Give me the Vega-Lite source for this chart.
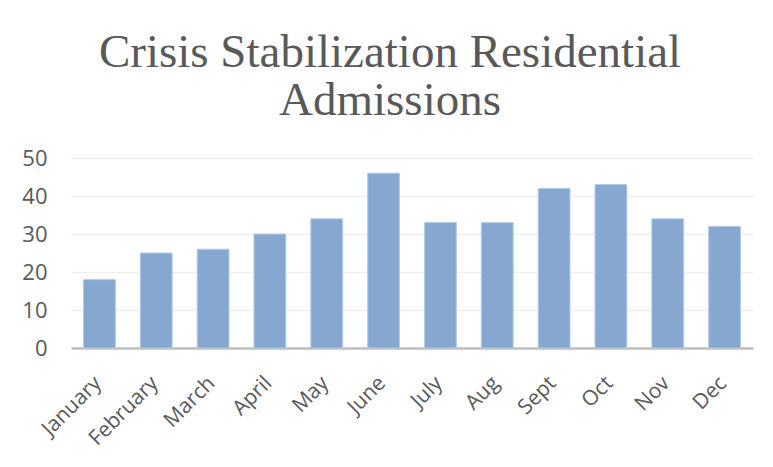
{
  "$schema": "https://vega.github.io/schema/vega-lite/v6.json",
  "width": 682,
  "height": 190,
  "autosize": "none",
  "padding": {"left": 71, "top": 158, "right": 20, "bottom": 119},
  "background": "white",
  "title": {
    "text": ["Crisis Stabilization Residential", "Admissions"],
    "font": "Liberation Serif",
    "fontSize": 47,
    "fontWeight": "normal",
    "color": "#595959",
    "lineHeight": 48,
    "anchor": "middle",
    "frame": "group",
    "dx": -22,
    "offset": 22
  },
  "data": {
    "values": [
      {"month": "January", "admissions": 18},
      {"month": "February", "admissions": 25},
      {"month": "March", "admissions": 26},
      {"month": "April", "admissions": 30},
      {"month": "May", "admissions": 34},
      {"month": "June", "admissions": 46},
      {"month": "July", "admissions": 33},
      {"month": "Aug", "admissions": 33},
      {"month": "Sept", "admissions": 42},
      {"month": "Oct", "admissions": 43},
      {"month": "Nov", "admissions": 34},
      {"month": "Dec", "admissions": 32}
    ]
  },
  "mark": {"type": "bar", "fill": "#85a7d0", "stroke": "#b4cbe6", "strokeWidth": 1},
  "encoding": {
    "x": {
      "field": "month",
      "type": "nominal",
      "sort": null,
      "scale": {"paddingInner": 0.44, "paddingOuter": 0.22},
      "axis": {
        "title": null,
        "labelAngle": -45,
        "labelFont": "Open Sans",
        "labelFontSize": 21,
        "labelColor": "#595959",
        "labelPadding": 24,
        "labelOffset": -9,
        "ticks": false,
        "domainColor": "#bfbfbf",
        "domainWidth": 2.5
      }
    },
    "y": {
      "field": "admissions",
      "type": "quantitative",
      "scale": {"domain": [0, 50]},
      "axis": {
        "title": null,
        "values": [0, 10, 20, 30, 40, 50],
        "labelOverlap": false,
        "labelFlush": false,
        "labelFont": "Open Sans",
        "labelFontSize": 22,
        "labelColor": "#595959",
        "labelPadding": 24,
        "ticks": false,
        "domain": false,
        "gridColor": "#eeeeee",
        "gridWidth": 1.5
      }
    }
  },
  "config": {"view": {"stroke": null}}
}
